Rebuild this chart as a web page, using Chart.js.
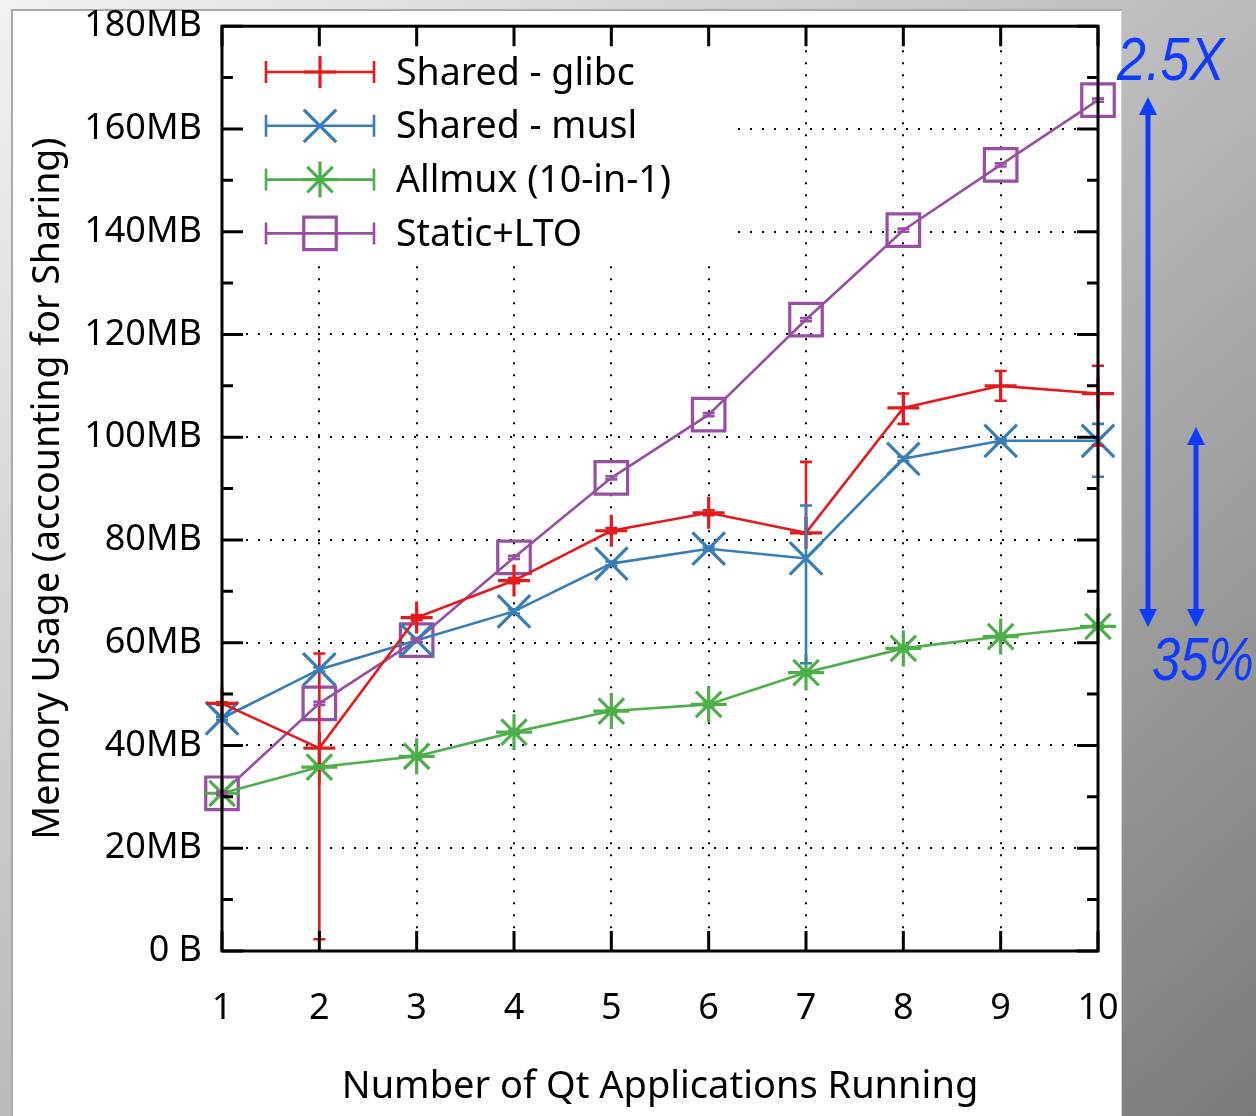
<!DOCTYPE html>
<html>
<head>
<meta charset="utf-8">
<title>Memory usage of Qt applications</title>
<script src="https://cdn.jsdelivr.net/npm/chart.js@4.4.1/dist/chart.umd.min.js"></script>
<style>
  html, body { margin: 0; padding: 0; }
  body {
    width: 1256px; height: 1116px; position: relative; overflow: hidden;
    background: linear-gradient(to bottom right, #f2f2f2 0%, #bababa 50%, #7a7a7a 100%);
  }
  /* white slide panel the plot sits on */
  #panel {
    position: absolute; left: 11px; top: 9px; width: 1108px; height: 1107px;
    background: #fff; border-left: 2px solid #a9a9a9; border-top: 2px solid #a9a9a9;
    border-right: 1px solid #d4d4d4;
  }
  #chart { position: absolute; left: 0; top: 0; }
</style>
</head>
<body>
<div id="panel"></div>
<canvas id="chart" width="1256" height="1116"></canvas>
<script>
// --- Data (MB) ---
const appCounts = [1, 2, 3, 4, 5, 6, 7, 8, 9, 10];
const yTickLabels = ['0 B', '20MB', '40MB', '60MB', '80MB', '100MB', '120MB', '140MB', '160MB', '180MB'];
const seriesNames = ['Shared - glibc', 'Shared - musl', 'Allmux (10-in-1)', 'Static+LTO'];

const glibcMB   = [48.2, 39.5, 64.9, 72.1, 81.8, 85.3, 81.4, 105.7, 110.0, 108.5];
const glibcLow  = [47.9, 2.3, 64.4, 71.6, 81.3, 84.8, 81.2, 102.6, 107.1, 98.4];
const glibcHigh = [48.4, 57.9, 65.4, 72.6, 82.3, 85.8, 95.2, 108.5, 112.9, 113.9];

const muslMB   = [45.3, 54.8, 60.5, 66.1, 75.4, 78.3, 76.4, 95.8, 99.3, 99.3];
const muslLow  = [45.0, 54.4, 60.1, 65.7, 75.0, 77.9, 56.0, 95.4, 98.9, 92.3];
const muslHigh = [45.6, 55.2, 60.9, 66.5, 75.8, 78.7, 86.7, 96.2, 99.7, 102.6];

const allmuxMB   = [30.7, 35.8, 37.9, 42.6, 46.7, 48.0, 54.2, 58.9, 61.2, 63.2];
const allmuxLow  = [30.4, 35.5, 37.6, 42.3, 46.4, 47.7, 53.9, 58.6, 60.9, 62.9];
const allmuxHigh = [31.0, 36.1, 38.2, 42.9, 47.0, 48.3, 54.5, 59.2, 61.5, 63.5];

const staticMB   = [30.7, 48.2, 60.5, 76.6, 92.1, 104.4, 122.9, 140.3, 153.0, 165.6];
const staticLow  = [30.4, 47.9, 60.2, 76.3, 91.8, 104.1, 122.6, 140.0, 152.7, 165.3];
const staticHigh = [31.0, 48.5, 60.8, 76.9, 92.4, 104.7, 123.2, 140.6, 153.3, 165.9];

const FONT = '"Noto Sans", "Open Sans", sans-serif';
Chart.defaults.color = '#000';
Chart.defaults.font.family = FONT;

function toPoints(values) {
    return values.map((v, i) => ({ x: appCounts[i], y: v }));
}

function makeSeries(idx, values, low, high, color, style, radius) {
    return {
        label: seriesNames[idx],
        data: toPoints(values),
        errLow: low,
        errHigh: high,
        borderColor: color,
        backgroundColor: 'rgba(0,0,0,0)',
        borderWidth: 2.6,
        pointStyle: style,
        pointRadius: radius,
        pointHoverRadius: radius,
        pointBorderColor: color,
        pointBackgroundColor: 'rgba(0,0,0,0)',
        pointBorderWidth: 3.2,
        tension: 0,
        clip: false
    };
}

// draws a marker the same way Chart.js does for the points
function drawMarker(ctx, ds, x, y) {
    ctx.save();
    ctx.strokeStyle = ds.borderColor;
    ctx.fillStyle = 'rgba(0,0,0,0)';
    ctx.lineWidth = ds.pointBorderWidth;
    Chart.helpers.drawPoint(ctx, {
        pointStyle: ds.pointStyle, radius: ds.pointRadius, rotation: 0, borderWidth: ds.pointBorderWidth
    }, x, y);
    ctx.restore();
}

// gnuplot-style key: opaque box, errorbar sample, marker, text
const keyPlugin = {
    id: 'gnuKey',
    beforeDatasetsDraw(chart) {
        const ctx = chart.ctx;
        ctx.save();
        ctx.fillStyle = '#fff';
        ctx.fillRect(228, 28, 507, 234);
        chart.data.datasets.forEach((ds, i) => {
            const rowY = 72 + i * 53.8;
            ctx.strokeStyle = ds.borderColor;
            ctx.lineWidth = 2.6;
            ctx.beginPath();
            ctx.moveTo(266, rowY); ctx.lineTo(374, rowY);
            ctx.moveTo(266, rowY - 11); ctx.lineTo(266, rowY + 11);
            ctx.moveTo(374, rowY - 11); ctx.lineTo(374, rowY + 11);
            ctx.stroke();
            drawMarker(ctx, ds, 320, rowY);
            ctx.fillStyle = '#000';
            ctx.font = '37.5px ' + FONT;
            ctx.textAlign = 'left';
            ctx.textBaseline = 'middle';
            ctx.fillText(ds.label, 396, rowY + 2);
        });
        ctx.restore();
    }
};

const errorBarPlugin = {
    id: 'errorBars',
    afterDatasetsDraw(chart) {
        const { ctx, scales: { x, y } } = chart;
        ctx.save();
        ctx.lineWidth = 2.6;
        chart.data.datasets.forEach(ds => {
            ctx.strokeStyle = ds.borderColor;
            ds.data.forEach((pt, i) => {
                const px = x.getPixelForValue(pt.x);
                const top = y.getPixelForValue(ds.errHigh[i]);
                const bot = y.getPixelForValue(ds.errLow[i]);
                ctx.beginPath();
                ctx.moveTo(px, top); ctx.lineTo(px, bot);
                ctx.moveTo(px - 6, top); ctx.lineTo(px + 6, top);
                ctx.moveTo(px - 6, bot); ctx.lineTo(px + 6, bot);
                ctx.stroke();
            });
        });
        ctx.restore();
    }
};

// closed border with inward major/minor ticks on all sides
const framePlugin = {
    id: 'frame',
    afterDatasetsDraw(chart) {
        const { ctx, chartArea: a, scales: { x, y } } = chart;
        ctx.save();
        ctx.strokeStyle = '#000';
        ctx.lineWidth = 3;
        ctx.beginPath();
        for (let v = y.min; v <= y.max; v += 10) {
            const py = y.getPixelForValue(v);
            const len = (v % 20 === 0) ? 21 : 11;
            ctx.moveTo(a.left, py); ctx.lineTo(a.left + len, py);
            ctx.moveTo(a.right, py); ctx.lineTo(a.right - len, py);
        }
        appCounts.forEach(c => {
            const px = x.getPixelForValue(c);
            ctx.moveTo(px, a.bottom); ctx.lineTo(px, a.bottom - 20);
            ctx.moveTo(px, a.top); ctx.lineTo(px, a.top + 20);
        });
        ctx.stroke();
        ctx.strokeRect(a.left, a.top, a.right - a.left, a.bottom - a.top);
        ctx.restore();
    }
};

function arrow(ctx, x, y1, y2, topHead) {
    ctx.beginPath();
    ctx.moveTo(x, topHead ? y1 + 14 : y1);
    ctx.lineTo(x, y2 - 14);
    ctx.stroke();
    ctx.beginPath();
    ctx.moveTo(x, y2); ctx.lineTo(x - 9, y2 - 18); ctx.lineTo(x + 9, y2 - 18);
    ctx.closePath(); ctx.fill();
    if (topHead) {
        ctx.beginPath();
        ctx.moveTo(x, y1); ctx.lineTo(x - 9, y1 + 18); ctx.lineTo(x + 9, y1 + 18);
        ctx.closePath(); ctx.fill();
    }
}

// slide annotations to the right of the plot
const annotatePlugin = {
    id: 'annotate',
    afterDraw(chart) {
        const ctx = chart.ctx;
        const blue = '#0f3bff';
        ctx.save();
        ctx.strokeStyle = blue;
        ctx.fillStyle = blue;
        ctx.lineWidth = 5;
        arrow(ctx, 1148, 97, 627, true);
        arrow(ctx, 1196, 427, 627, true);
        ctx.font = 'italic 62px "Liberation Sans", Arial, sans-serif';
        ctx.textBaseline = 'alphabetic';
        ctx.save();
        ctx.translate(1117, 80); ctx.scale(0.84, 1);
        ctx.fillText('2.5X', 0, 0);
        ctx.restore();
        ctx.save();
        ctx.translate(1152, 680); ctx.scale(0.82, 1);
        ctx.fillText('35%', 0, 0);
        ctx.restore();
        ctx.restore();
    }
};

const ctx = document.getElementById('chart').getContext('2d');
new Chart(ctx, {
    type: 'line',
    data: {
        datasets: [
            makeSeries(0, glibcMB, glibcLow, glibcHigh, '#e41a1c', 'cross', 16),
            makeSeries(1, muslMB, muslLow, muslHigh, '#377eb8', 'crossRot', 23),
            makeSeries(2, allmuxMB, allmuxLow, allmuxHigh, '#4daf4a', 'star', 18),
            makeSeries(3, staticMB, staticLow, staticHigh, '#984ea3', 'rect', 23)
        ]
    },
    options: {
        responsive: false,
        devicePixelRatio: 1,
        animation: false,
        events: [],
        layout: { padding: { left: 0, top: 25, right: 158, bottom: 0 } },
        plugins: { legend: { display: false }, tooltip: { enabled: false } },
        scales: {
            x: {
                type: 'linear', min: 1, max: 10,
                ticks: { stepSize: 1, autoSkip: false, padding: 36, font: { size: 36 }, color: '#000',
                         callback: v => String(v) },
                grid: { color: '#000', lineWidth: 2, drawTicks: false },
                border: { display: false, dash: [2, 10] },
                title: { display: true, text: 'Number of Qt Applications Running', color: '#000',
                         font: { size: 38 }, padding: { top: 0, bottom: 6 } },
                afterFit(scale) { scale.height = 165; }
            },
            y: {
                min: 0, max: 180,
                ticks: { stepSize: 20, padding: 20, font: { size: 36 }, color: '#000',
                         callback: v => yTickLabels[Math.round(v / 20)] },
                grid: { color: '#000', lineWidth: 2, drawTicks: false },
                border: { display: false, dash: [2, 10] },
                title: { display: true, text: 'Memory Usage (accounting for Sharing)', color: '#000',
                         font: { size: 37.5 }, padding: { top: 26, bottom: 0 } },
                afterFit(scale) {
                    scale.width = 222;
                    // let the layout padding alone decide where the plot starts
                    scale.paddingTop = 0;
                    scale.paddingBottom = 0;
                }
            }
        }
    },
    plugins: [keyPlugin, errorBarPlugin, framePlugin, annotatePlugin]
});
</script>
</body>
</html>
